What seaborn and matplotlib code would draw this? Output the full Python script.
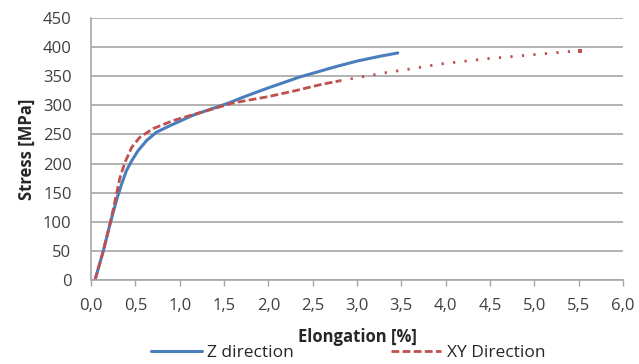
import matplotlib
matplotlib.use("Agg")
import matplotlib.pyplot as plt
import seaborn as sns
import pandas as pd
from matplotlib.ticker import FuncFormatter, MultipleLocator
from matplotlib.lines import Line2D

z_elong = [0.045, 0.139, 0.214, 0.297, 0.346, 0.40, 0.46, 0.53, 0.63, 0.74, 0.89,
           1.15, 1.42, 1.57, 1.75, 2.0, 2.36, 2.5, 2.75, 3.0, 3.25, 3.46]
z_stress = [0, 50, 96, 142, 165, 188, 205, 222, 240, 254, 265,
            283, 297, 305, 316, 330, 349, 355, 366, 376, 384, 390]

xy_elong = [0.045, 0.139, 0.214, 0.27, 0.327, 0.383, 0.46, 0.55, 0.70, 0.93, 1.15,
            1.38, 1.60, 2.0, 2.3, 2.6, 2.8, 3.06, 3.32, 3.58, 3.94, 4.46, 4.99, 5.51]
xy_stress = [0, 50, 96, 135, 176, 202, 228, 245, 260, 274, 284,
             294, 304, 315, 325, 336, 342, 349, 356, 362, 371, 380, 387, 394]

series_names = ["Z direction", "XY Direction"]

sns.set_theme(style="white")
plt.rcParams['font.family'] = ['Open Sans', 'DejaVu Sans']

fig = plt.figure(figsize=(6.39, 3.64), dpi=100)
ax = fig.add_axes([91/639, 1-280/364, (623-91)/639, (280-18)/364])

dz = pd.DataFrame({"x": z_elong, "y": z_stress})
dxy = pd.DataFrame({"x": xy_elong, "y": xy_stress})

blue = "#4A7EBB"
red = "#C0504D"
dash_style = (0, (2.8, 1.2))
sns.lineplot(data=dz, x="x", y="y", ax=ax, color=blue, linewidth=2.2, sort=False)
head = dxy[dxy.x <= 2.8]
tail = dxy[dxy.x >= 2.8]
sns.lineplot(data=head, x="x", y="y", ax=ax, color=red, linewidth=2.0,
             linestyle=dash_style, sort=False)
sns.lineplot(data=tail, x="x", y="y", ax=ax, color=red, linewidth=2.0,
             linestyle=(0, (0.8, 3.35)), sort=False,
             marker="s", markevery=[-1], markersize=2.2, markeredgewidth=0)

ax.set_xlim(0, 6)
ax.set_ylim(0, 450)
ax.xaxis.set_major_locator(MultipleLocator(0.5))
ax.yaxis.set_major_locator(MultipleLocator(50))
ax.xaxis.set_major_formatter(FuncFormatter(lambda v, p: f"{v:.1f}".replace(".", ",")))
ax.yaxis.set_major_formatter(FuncFormatter(lambda v, p: f"{int(v)}"))
ax.grid(axis="y", color="#A6A6A6", linewidth=1.2)
ax.grid(axis="x", visible=False)
for s in ["top", "right"]:
    ax.spines[s].set_visible(False)
for s in ["left", "bottom"]:
    ax.spines[s].set_color("#A6A6A6")
    ax.spines[s].set_linewidth(1.2)
ax.tick_params(axis="x", direction="out", length=4, color="#A6A6A6", width=1,
               labelsize=12, pad=9, bottom=True)
ax.tick_params(axis="y", length=0, labelsize=12, pad=14)
for lab in ax.get_xticklabels() + ax.get_yticklabels():
    lab.set_color("#404040")
ax.set_xlabel("Elongation [%]", fontsize=12, fontweight="bold", labelpad=10)
ax.set_ylabel("Stress [MPa]", fontsize=12, fontweight="bold", labelpad=5)

handles = [Line2D([0], [0], color=blue, linewidth=2.2),
           Line2D([0], [0], color=red, linewidth=2.0, linestyle=dash_style)]
fig.legend(handles, series_names, loc="center", ncol=2, frameon=False,
           bbox_to_anchor=(0.545, 1-353/364), fontsize=12.5, handlelength=2.9,
           columnspacing=5.6, handletextpad=0.3, borderpad=0, borderaxespad=0)

fig.savefig("out.png", dpi=100, facecolor="white")
